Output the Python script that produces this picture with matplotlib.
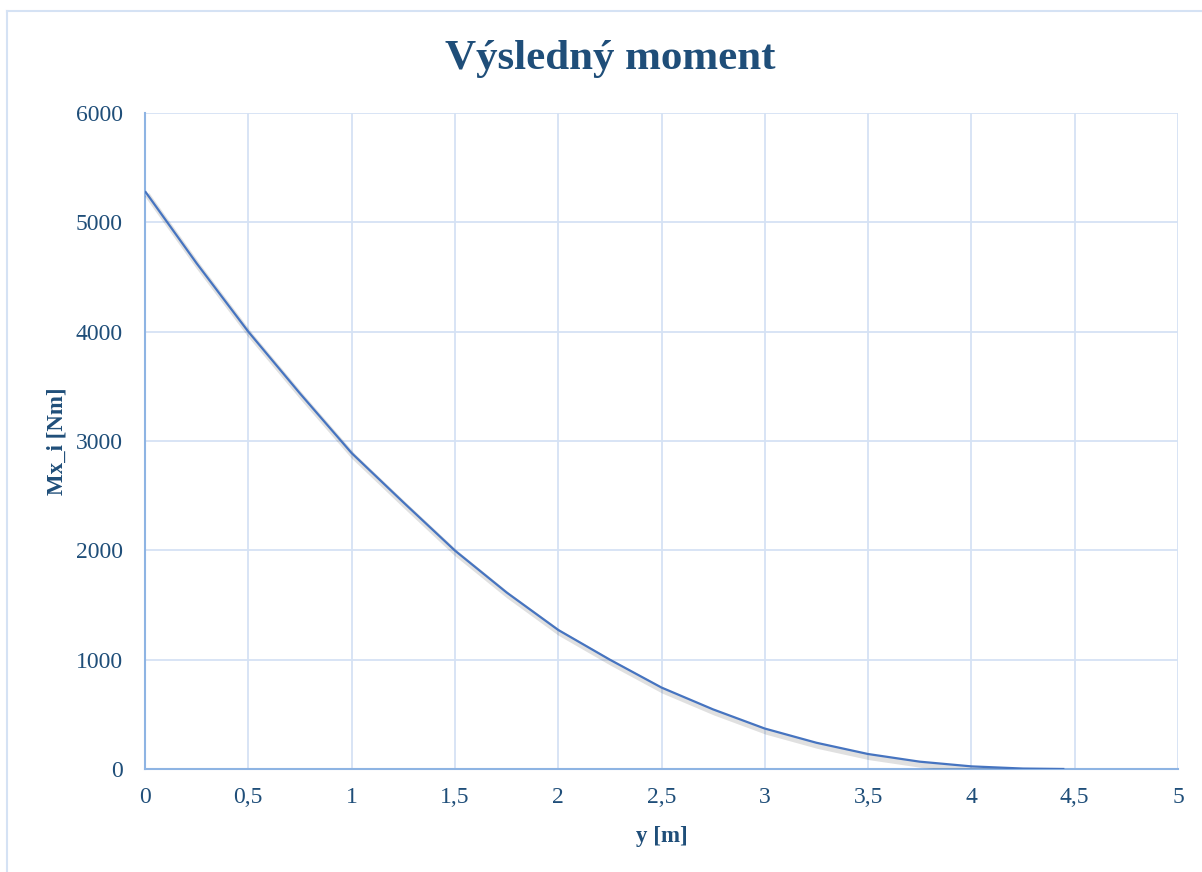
import numpy as np
import matplotlib
matplotlib.use('Agg')
import matplotlib.pyplot as plt
import matplotlib.patheffects as pe
from matplotlib.lines import Line2D

# values
y_pos = [0.0, 0.25, 0.5, 0.75, 1.0, 1.25, 1.5, 1.75, 2.0, 2.25, 2.5,
         2.75, 3.0, 3.25, 3.5, 3.75, 4.0, 4.25, 4.45]
moment = [5285, 4625, 4000, 3435, 2890, 2440, 1998, 1615, 1272, 1000, 745,
          545, 370, 240, 137, 67, 24, 4, 0]

x_ticks = [0, 0.5, 1, 1.5, 2, 2.5, 3, 3.5, 4, 4.5, 5]
x_ticklabels = ['0', '0,5', '1', '1,5', '2', '2,5', '3', '3,5', '4', '4,5', '5']
y_ticks = [0, 1000, 2000, 3000, 4000, 5000, 6000]

text_col = '#1F4E79'
grid_col = '#D5E2F4'
spine_col = '#8EB4E3'
line_col = '#4674C0'

plt.rcParams['font.family'] = ['Liberation Serif', 'DejaVu Serif']

fig = plt.figure(figsize=(12.02, 8.72), dpi=100)
ax = fig.add_axes([145 / 1202, 1 - 769 / 872, (1178 - 145) / 1202, (769 - 113) / 872])

ax.plot(y_pos, moment, color=line_col, lw=1.6, solid_capstyle='butt',
        solid_joinstyle='round', zorder=3,
        path_effects=[pe.SimpleLineShadow(offset=(1.5, -2.5), shadow_color='#000000',
                                          alpha=0.12, linewidth=4),
                      pe.Normal()])

ax.set_xlim(0, 5)
ax.set_ylim(0, 6000)
ax.set_xticks(x_ticks)
ax.set_xticklabels(x_ticklabels)
ax.set_yticks(y_ticks)
ax.grid(True, color=grid_col, lw=1.3)
ax.set_axisbelow(True)

for side in ['top', 'right']:
    ax.spines[side].set_visible(False)
for side in ['left', 'bottom']:
    ax.spines[side].set_color(spine_col)
    ax.spines[side].set_linewidth(1.5)

ax.tick_params(length=0, labelsize=17, labelcolor=text_col)
ax.tick_params(axis='y', pad=16)
ax.tick_params(axis='x', pad=13)

ax.set_xlabel('y [m]', fontsize=16.5, fontweight='bold', color=text_col, labelpad=13)
ax.set_ylabel('Mx_i [Nm]', fontsize=16.5, fontweight='bold', color=text_col, labelpad=6)

fig.text(0.508, 1 - 59 / 872, 'Výsledný moment', ha='center', va='center',
         fontsize=31, fontweight='bold', color=text_col)

# chart area frame (only top and left edges fall inside the picture)
fig.add_artist(Line2D([7 / 1202, 7 / 1202], [0, 1 - 11 / 872],
                      transform=fig.transFigure, color=grid_col, lw=1.5))
fig.add_artist(Line2D([7 / 1202, 1], [1 - 11 / 872, 1 - 11 / 872],
                      transform=fig.transFigure, color=grid_col, lw=1.5))

fig.savefig('out.png', dpi=100)
